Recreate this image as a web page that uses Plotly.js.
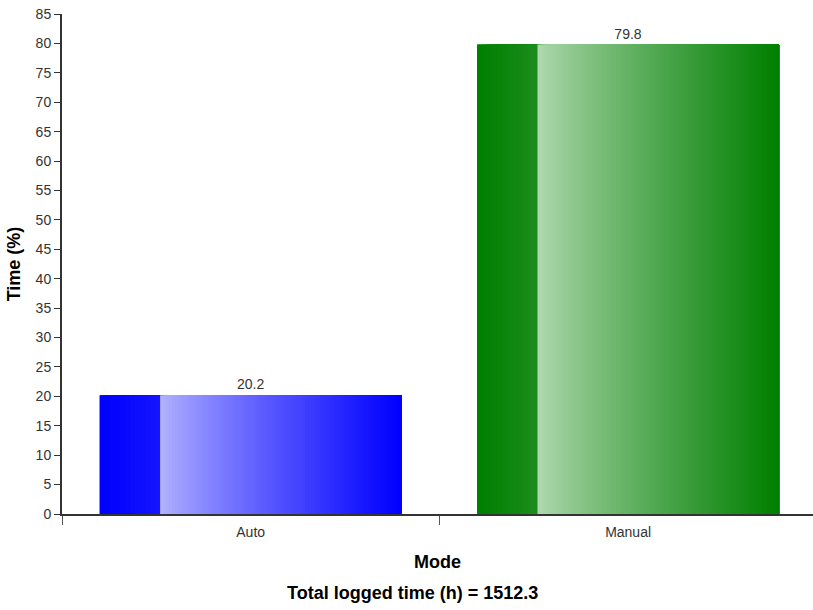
<!DOCTYPE html>
<html><head><meta charset="utf-8">
<script src="https://cdn.plot.ly/plotly-3.0.1.min.js"></script>
<style>html,body{margin:0;padding:0;background:#fff}#chart{width:813px;height:610px}</style>
</head><body><div id="chart"></div>
<script>
const modes = ["Auto", "Manual"];
const timePct = [20.2, 79.8];
const totalHours = 1512.3;
const baseColors = [[0,0,255],[0,128,0]];
const lightColors = [[178,178,255],[176,216,176]];
const solidEdge = [[20,20,255],[26,140,26]];

const BW = 0.8, SOLID = 0.2, N = 80;
function rgb(c){return 'rgb('+c.map(v=>Math.round(v)).join(',')+')';}
function mix(a,b,t){return a.map((v,i)=>v+(b[i]-v)*t);}

const traces = [];
// base bar with label
traces.push({type:'bar', x:modes, y:timePct, width:BW, offset:-BW/2,
  marker:{color:baseColors.map(rgb), line:{width:0}},
  text:timePct.map(v=>v.toFixed(1)), textposition:'outside', cliponaxis:false,
  textfont:{family:'Liberation Sans, Arial, sans-serif', size:14, color:'#333'},
  hoverinfo:'skip', showlegend:false});
// solid part slices (each extends to the bar's right end; later ones paint over)
const NS = 12;
for(let i=0;i<NS;i++){
  const off = BW*SOLID*i/NS;
  traces.push({type:'bar', x:modes, y:timePct, width:BW-off, offset:-BW/2 + off,
    marker:{color:baseColors.map((c,k)=>rgb(mix(c,solidEdge[k],i/(NS-1)))), line:{width:0}},
    hoverinfo:'skip', showlegend:false});
}
// gradient slices
for(let i=0;i<N;i++){
  const off = BW*SOLID + BW*(1-SOLID)*i/N;
  const t = i/(N-1);
  const tt = Math.pow(t,0.85);
  traces.push({type:'bar', x:modes, y:timePct, width:BW-off, offset:-BW/2 + off,
    marker:{color:baseColors.map((c,k)=>rgb(mix(lightColors[k],c,tt))), line:{width:0}},
    hoverinfo:'skip', showlegend:false});
}

const font = {family:'Liberation Sans, Arial, sans-serif', size:14, color:'#333'};
const titleFont = {family:'Liberation Sans, Arial, sans-serif', size:18, color:'#000'};
const layout = {
  width:813, height:610, barmode:'overlay',
  margin:{l:62, r:0, t:14, b:96},
  paper_bgcolor:'#fff', plot_bgcolor:'#fff',
  font:font, showlegend:false,
  xaxis:{type:'category', range:[-0.5, 1.49], tickson:'boundaries', ticks:'outside', ticklen:9,
    tickcolor:'#555', showline:true, linecolor:'#333', linewidth:2, showgrid:false, zeroline:false,
    tickfont:font, ticklabelstandoff:4,
    title:{text:'<b>Mode</b>', font:titleFont, standoff:17}},
  yaxis:{range:[0,85], dtick:5, ticks:'outside', ticklen:6, tickcolor:'#333', showline:true,
    linecolor:'#333', linewidth:2, showgrid:false, zeroline:false, tickfont:font,
    title:{text:'<b>Time (%)</b>', font:titleFont, standoff:10}},
  annotations:[{xref:'paper', yref:'paper', x:(412-62)/751, y:-0.157, xanchor:'center', yanchor:'middle',
    showarrow:false, text:'<b>Total logged time (h) = '+totalHours.toFixed(1)+'</b>',
    font:titleFont}]
};
Plotly.newPlot('chart', traces, layout, {staticPlot:true, displayModeBar:false});
</script></body></html>
